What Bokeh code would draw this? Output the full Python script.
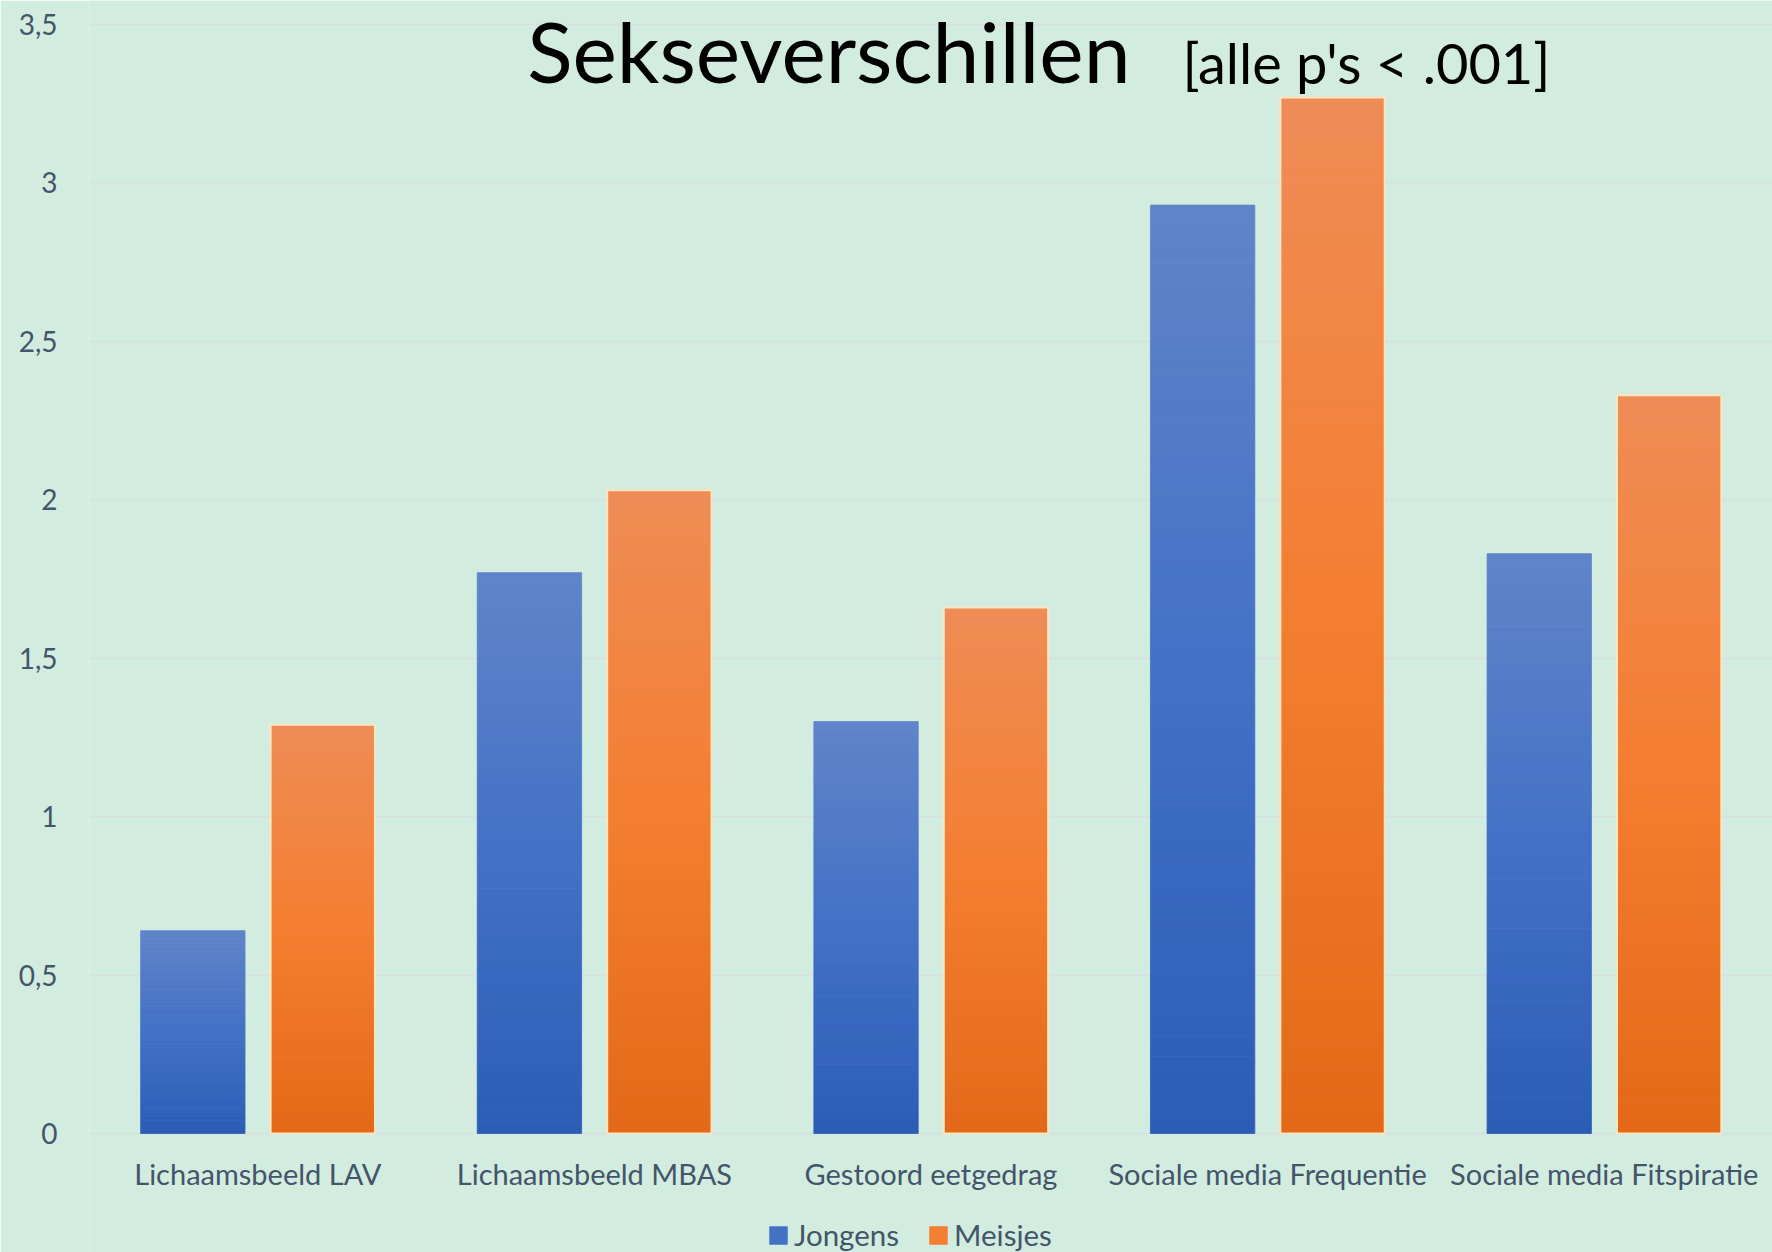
from bokeh.plotting import figure
from bokeh.models import (FactorRange, Range1d, ColumnDataSource, Label, Legend,
                          LegendItem, FixedTicker, CustomJSTickFormatter)
from bokeh.transform import dodge
from bokeh.embed import file_html
from bokeh.resources import INLINE

# ---- data ----
categories = ["Lichaamsbeeld LAV", "Lichaamsbeeld MBAS", "Gestoord eetgedrag",
              "Sociale media Frequentie", "Sociale media Fitspiratie"]
jongens = [0.64, 1.77, 1.30, 2.93, 1.83]
meisjes = [1.29, 2.03, 1.66, 3.27, 2.33]
series_names = ["Jongens", "Meisjes"]
y_ticks = [0, 0.5, 1, 1.5, 2, 2.5, 3, 3.5]
title_main = "Sekseverschillen"
title_note = "[alle p's < .001]"

# ---- style ----
BG = "#d2eddf"
TXT = "#44546a"
FONT = "Lato"
blue_stops = [(97, 132, 201), (66, 113, 198), (44, 93, 181)]     # top, mid, bottom
orange_stops = [(239, 140, 86), (244, 126, 48), (227, 105, 23)]
N_SLICES = 48


def grad(stops, t):
    if t <= 0.5:
        a, b, u = stops[0], stops[1], t / 0.5
    else:
        a, b, u = stops[1], stops[2], (t - 0.5) / 0.5
    c = [round(a[i] + (b[i] - a[i]) * u) for i in range(3)]
    return "#%02x%02x%02x" % tuple(c)


def slices(values, stops):
    d = {"x": [], "bottom": [], "top": [], "color": []}
    for cat, v in zip(categories, values):
        for k in range(N_SLICES):
            d["x"].append(cat)
            d["bottom"].append(v * k / N_SLICES)
            d["top"].append(v * (k + 1) / N_SLICES)
            t = 1 - (k + 0.5) / N_SLICES
            d["color"].append(grad(stops, t))
    return ColumnDataSource(d)


W, H = 1772, 1252
ZERO_PX = 1133
PX_PER_UNIT = (ZERO_PX - 24) / 3.5
y_end = ZERO_PX / PX_PER_UNIT
y_start = -(H - ZERO_PX) / PX_PER_UNIT

p = figure(width=W, height=H,
           x_range=FactorRange(*categories, range_padding=0, factor_padding=0),
           y_range=Range1d(y_start, y_end),
           output_backend="svg", toolbar_location=None,
           min_border_left=89, min_border_right=0, min_border_top=0,
           min_border_bottom=0)
p.background_fill_color = BG
p.border_fill_color = BG
p.outline_line_color = None

p.xgrid.grid_line_color = None
p.ygrid.grid_line_color = "#d8dfe1"
p.ygrid.grid_line_width = 1.5

bw = 0.31
off = 0.193
src_b = slices(jongens, blue_stops)
src_o = slices(meisjes, orange_stops)
r_b = p.vbar(x=dodge("x", -off, range=p.x_range), bottom="bottom", top="top", width=bw,
             source=src_b, fill_color="color", line_color="color", line_width=0.8)
r_o = p.vbar(x=dodge("x", off, range=p.x_range), bottom="bottom", top="top", width=bw,
             source=src_o, fill_color="color", line_color="color", line_width=0.8)

outline_src = ColumnDataSource(dict(x=categories, top=meisjes))
p.vbar(x=dodge("x", off, range=p.x_range), top="top", width=bw, source=outline_src,
       fill_alpha=0, line_color="#fbe6c4", line_width=2)

mid = N_SLICES // 2
legend = Legend(items=[LegendItem(label=series_names[0], renderers=[r_b], index=mid),
                       LegendItem(label=series_names[1], renderers=[r_o], index=mid)],
                orientation="horizontal", location=(678, 0),
                glyph_width=22, glyph_height=22, label_standoff=5, spacing=28,
                padding=0, margin=0, border_line_color=None,
                background_fill_alpha=0, label_text_font=FONT,
                label_text_font_size="29.5px", label_text_color=TXT,
                label_height=30)
p.add_layout(legend)

# axes
p.yaxis.ticker = FixedTicker(ticks=y_ticks)
p.yaxis.formatter = CustomJSTickFormatter(code="return tick.toString().replace('.', ',');")
p.yaxis.axis_line_color = None
p.yaxis.major_tick_line_color = None
p.yaxis.minor_tick_line_color = None
p.yaxis.major_tick_out = 0
p.yaxis.major_tick_in = 0
p.yaxis.major_label_standoff = 32
p.yaxis.major_label_text_font = FONT
p.yaxis.major_label_text_font_size = "28px"
p.yaxis.major_label_text_color = TXT

p.xaxis.fixed_location = 0
p.xaxis.axis_line_color = None
p.xaxis.major_tick_line_color = None
p.xaxis.major_tick_out = 6
p.xaxis.major_label_standoff = 16
p.xaxis.major_label_text_font = FONT
p.xaxis.major_label_text_font_size = "29px"
p.xaxis.major_label_text_color = TXT

# title
p.add_layout(Label(x=1130 - 89, y=1083 + 119, x_units="screen", y_units="screen",
                   text=title_main, text_font=FONT, text_font_size="84px",
                   text_color="black", text_baseline="alphabetic", text_align="right"))
p.add_layout(Label(x=1182 - 89, y=1071 + 119, x_units="screen", y_units="screen",
                   text=title_note, text_font=FONT, text_font_size="56px",
                   text_color="black", text_baseline="alphabetic"))

open("out.html", "w").write(file_html(p, INLINE))
